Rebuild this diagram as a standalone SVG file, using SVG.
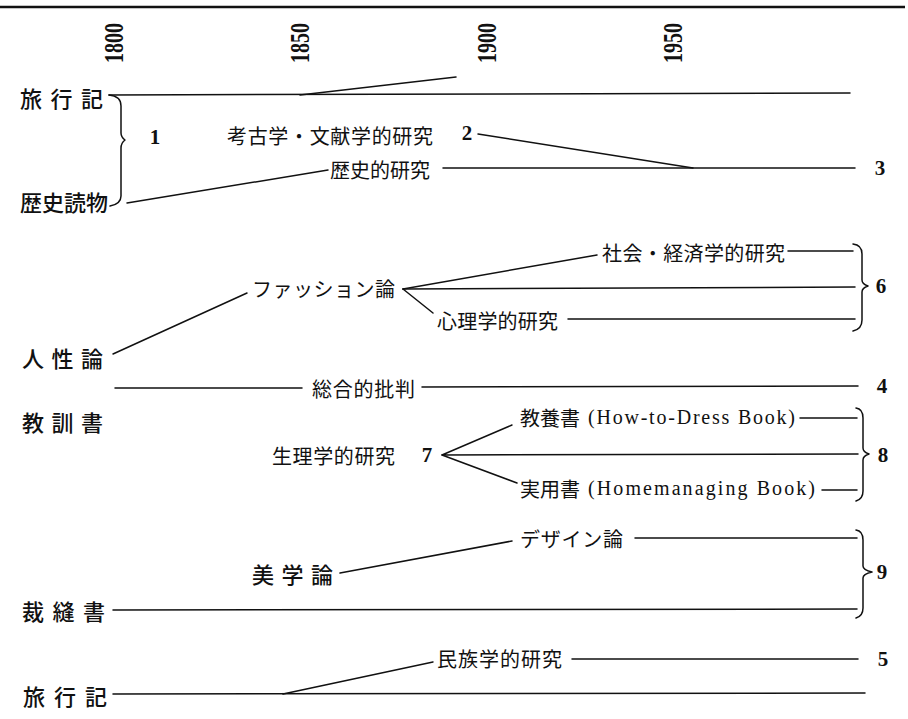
<svg xmlns="http://www.w3.org/2000/svg" width="908" height="719" viewBox="0 0 908 719">
<style>
.jp{font-family:"Noto Sans CJK JP","Noto Sans",sans-serif;font-size:20px;fill:#111;dominant-baseline:central}
.big{font-size:22px;font-weight:500}
.lat{font-family:"Liberation Serif",serif;font-size:20px;fill:#111;dominant-baseline:central}
.num{font-family:"Liberation Serif",serif;font-size:21px;font-weight:bold;fill:#111;text-anchor:middle;dominant-baseline:central}
.yr{font-family:"Liberation Serif",serif;font-size:27px;font-weight:bold;fill:#111;text-anchor:middle;dominant-baseline:central}
.ln{stroke:#111;stroke-width:1.5;fill:none;stroke-linecap:round;stroke-linejoin:round}
</style>
<rect width="908" height="719" fill="#fff"/>
<g id="axis">
<line x1="0" y1="7" x2="905" y2="7" stroke="#111" stroke-width="2.5"/>
<text class="yr" transform="translate(114,43) rotate(-90)" textLength="40" lengthAdjust="spacingAndGlyphs">1800</text>
<text class="yr" transform="translate(300,43) rotate(-90)" textLength="40" lengthAdjust="spacingAndGlyphs">1850</text>
<text class="yr" transform="translate(487,43) rotate(-90)" textLength="40" lengthAdjust="spacingAndGlyphs">1900</text>
<text class="yr" transform="translate(673,43) rotate(-90)" textLength="40" lengthAdjust="spacingAndGlyphs">1950</text>
</g>
<g id="connectors" class="ln">
<path d="M109,95 L850,93"/>
<path d="M300,95 L456,77"/>
<path d="M478,134 L693,168"/>
<path d="M127,203 L328,170"/>
<path d="M443,168 L855,168"/>
<path d="M113,354 L247,293"/>
<path d="M403,289 L597,255"/>
<path d="M403,289 L855,287"/>
<path d="M403,289 L433,313"/>
<path d="M788,251 L853,251"/>
<path d="M568,319 L855,319"/>
<path d="M115,388 L302,388"/>
<path d="M422,387 L858,386"/>
<path d="M800,418 L857,418"/>
<path d="M512,425 L442,455 L858,454"/>
<path d="M442,455 L517,483"/>
<path d="M822,490 L857,490"/>
<path d="M635,538 L857,538"/>
<path d="M340,573 L512,541"/>
<path d="M113,610 L857,609"/>
<path d="M572,659 L858,659"/>
<path d="M113,694 L865,693"/>
<path d="M283,694 L433,662"/>
</g>
<g id="braces" class="ln">
<path d="M109,95 Q121,96 121,106 L121,133 Q121,137 125,140 Q121,143 121,148 L121,196 Q121,204 110,206"/>
<path d="M853,244 Q862,245 862,254 L862,280 Q862,284 868,286 Q862,288 862,292 L862,320 Q862,329 853,331"/>
<path d="M856,408 Q863,409 863,418 L863,448 Q863,452 869,454 Q863,456 863,460 L863,491 Q863,499 856,501"/>
<path d="M856,530 Q863,531 863,540 L863,566 Q863,570 872,572 Q863,574 863,578 L863,608 Q863,616 856,618"/>
</g>
<g id="n-travel-top"><text class="jp big" x="20" y="97" textLength="83" lengthAdjust="spacing">旅行記</text></g>
<g id="n-history-read"><text class="jp big" x="20" y="201" textLength="88" lengthAdjust="spacing">歴史読物</text></g>
<g id="n-1"><text class="num" x="155" y="137">1</text></g>
<g id="n-archaeology"><text class="jp" x="227" y="135" textLength="206" lengthAdjust="spacing">考古学・文献学的研究</text></g>
<g id="n-2"><text class="num" x="467" y="133">2</text></g>
<g id="n-history-study"><text class="jp" x="330" y="169" textLength="100" lengthAdjust="spacing">歴史的研究</text></g>
<g id="n-3"><text class="num" x="880" y="168">3</text></g>
<g id="n-fashion"><text class="jp" x="252" y="288" textLength="143" lengthAdjust="spacing">ファッション論</text></g>
<g id="n-socio"><text class="jp" x="602" y="252" textLength="183" lengthAdjust="spacing">社会・経済学的研究</text></g>
<g id="n-psych"><text class="jp" x="437" y="320" textLength="121" lengthAdjust="spacing">心理学的研究</text></g>
<g id="n-6"><text class="num" x="881" y="286">6</text></g>
<g id="n-human"><text class="jp big" x="22" y="357" textLength="81" lengthAdjust="spacing">人性論</text></g>
<g id="n-critique"><text class="jp" x="312" y="388" textLength="103" lengthAdjust="spacing">総合的批判</text></g>
<g id="n-4"><text class="num" x="882" y="386">4</text></g>
<g id="n-moral"><text class="jp big" x="22" y="421" textLength="81" lengthAdjust="spacing">教訓書</text></g>
<g id="n-dress"><text class="jp" x="520" y="417" textLength="60" lengthAdjust="spacing">教養書</text><text class="lat" x="588" y="417" textLength="207" lengthAdjust="spacing">(How-to-Dress  Book)</text></g>
<g id="n-physio"><text class="jp" x="272" y="455" textLength="123" lengthAdjust="spacing">生理学的研究</text></g>
<g id="n-7"><text class="num" x="427" y="455">7</text></g>
<g id="n-home"><text class="jp" x="520" y="488" textLength="60" lengthAdjust="spacing">実用書</text><text class="lat" x="588" y="488" textLength="227" lengthAdjust="spacing">(Homemanaging  Book)</text></g>
<g id="n-8"><text class="num" x="883" y="455">8</text></g>
<g id="n-design"><text class="jp" x="520" y="538" textLength="103" lengthAdjust="spacing">デザイン論</text></g>
<g id="n-aesth"><text class="jp big" x="252" y="573" textLength="81" lengthAdjust="spacing">美学論</text></g>
<g id="n-sewing"><text class="jp big" x="22" y="610" textLength="83" lengthAdjust="spacing">裁縫書</text></g>
<g id="n-9"><text class="num" x="882" y="572">9</text></g>
<g id="n-ethno"><text class="jp" x="437" y="658" textLength="125" lengthAdjust="spacing">民族学的研究</text></g>
<g id="n-5"><text class="num" x="883" y="659">5</text></g>
<g id="n-travel-bottom"><text class="jp big" x="23" y="695" textLength="84" lengthAdjust="spacing">旅行記</text></g>
</svg>
